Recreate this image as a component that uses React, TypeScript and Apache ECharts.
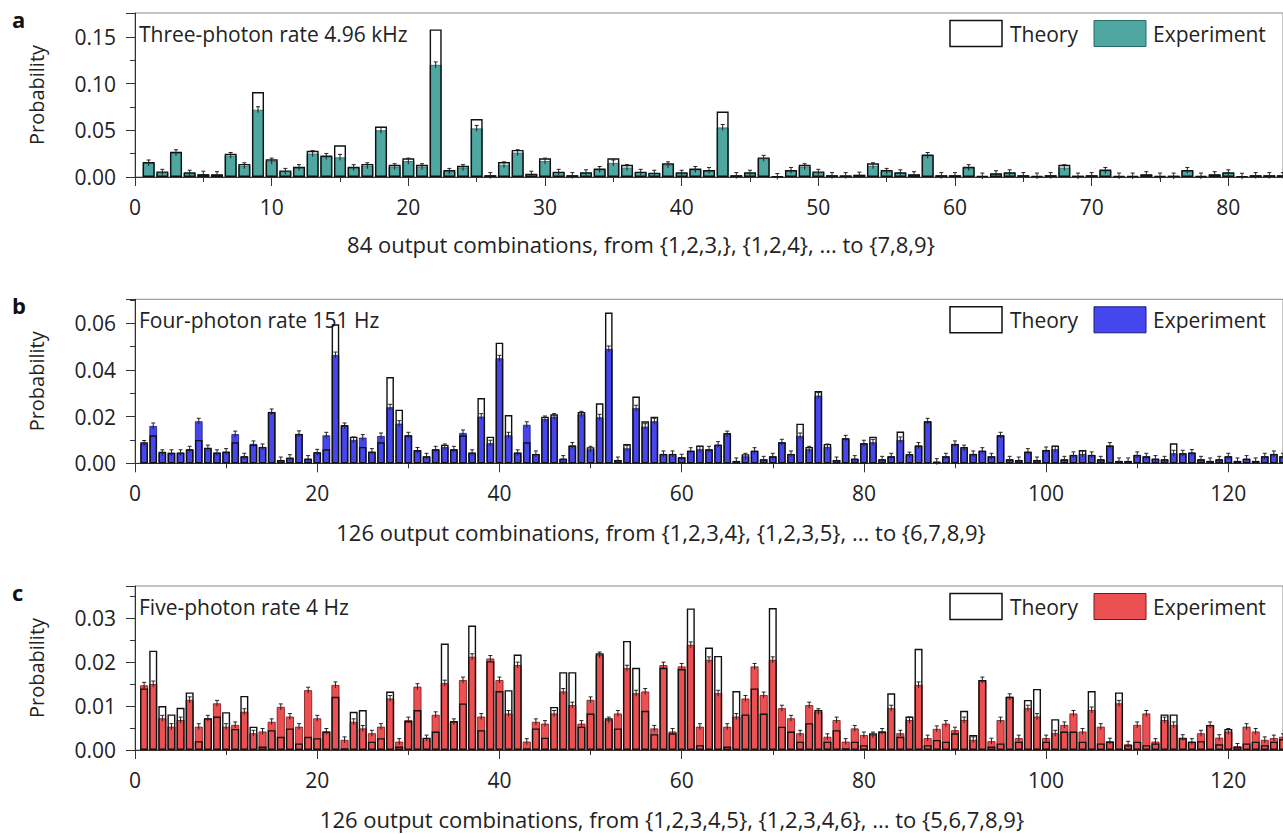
import React, { useEffect, useRef } from "react";
import * as echarts from "echarts";

// ---------- data ----------
const threeTheory = [
  0.016, 0.006, 0.027, 0.005, 0.003, 0.003, 0.025, 0.014, 0.091, 0.019,
  0.007, 0.011, 0.028, 0.023, 0.034, 0.011, 0.014, 0.054, 0.013, 0.02,
  0.013, 0.158, 0.0075, 0.012, 0.062, 0.002, 0.016, 0.029, 0.0036, 0.02,
  0.0057, 0.002, 0.005, 0.009, 0.02, 0.013, 0.0057, 0.0046, 0.0146, 0.005,
  0.009, 0.0075, 0.07, 0.002, 0.005, 0.021, 0.0005, 0.0075, 0.013, 0.006,
  0.002, 0.0018, 0.0025, 0.0146, 0.0075, 0.005, 0.003, 0.024, 0.002, 0.002,
  0.011, 0.001, 0.004, 0.005, 0.002, 0.001, 0.002, 0.013, 0.0015, 0.002,
  0.008, 0.001, 0.001, 0.003, 0.001, 0.0015, 0.0075, 0.001, 0.003, 0.005,
  0.0008, 0.002, 0.002, 0.002,
];
const threeExp = [
  0.015, 0.005, 0.026, 0.004, 0.003, 0.0025, 0.023, 0.012, 0.072, 0.017,
  0.006, 0.01, 0.025, 0.022, 0.021, 0.01, 0.012, 0.05, 0.011, 0.017,
  0.011, 0.12, 0.006, 0.01, 0.052, 0.0015, 0.013, 0.026, 0.003, 0.017,
  0.005, 0.0015, 0.0045, 0.008, 0.015, 0.01, 0.005, 0.004, 0.013, 0.004,
  0.008, 0.007, 0.053, 0.0015, 0.004, 0.02, 0.0005, 0.007, 0.011, 0.005,
  0.0015, 0.0015, 0.002, 0.012, 0.006, 0.0045, 0.0025, 0.023, 0.0015, 0.0015,
  0.01, 0.001, 0.0035, 0.0045, 0.0015, 0.001, 0.0015, 0.01, 0.001, 0.0015,
  0.007, 0.001, 0.001, 0.0025, 0.001, 0.001, 0.007, 0.001, 0.0025, 0.0045,
  0.0008, 0.0015, 0.0015, 0.0015,
];
const fourTheory = [
  0.009, 0.012, 0.005, 0.0045, 0.0046, 0.006, 0.01, 0.0067, 0.0046, 0.005,
  0.009, 0.003, 0.008, 0.007, 0.022, 0.0014, 0.0024, 0.0126, 0.002, 0.0047,
  0.006, 0.0596, 0.0164, 0.0114, 0.007, 0.005, 0.009, 0.037, 0.023, 0.012,
  0.0057, 0.003, 0.006, 0.008, 0.006, 0.012, 0.0046, 0.028, 0.0114, 0.0517,
  0.0207, 0.0046, 0.009, 0.004, 0.02, 0.021, 0.002, 0.0076, 0.022, 0.0069,
  0.0257, 0.0646, 0.0014, 0.0083, 0.0286, 0.018, 0.02, 0.004, 0.004, 0.0026,
  0.0054, 0.0076, 0.006, 0.008, 0.013, 0.001, 0.0039, 0.0054, 0.0017, 0.003,
  0.009, 0.004, 0.017, 0.007, 0.031, 0.0083, 0.0014, 0.0107, 0.002, 0.0086,
  0.0114, 0.0017, 0.003, 0.0136, 0.004, 0.0076, 0.018, 0.0007, 0.003, 0.0083,
  0.007, 0.004, 0.0054, 0.003, 0.012, 0.0017, 0.0014, 0.005, 0.0014, 0.0057,
  0.0076, 0.0017, 0.0036, 0.0057, 0.0036, 0.0017, 0.0076, 0.001, 0.001, 0.0036,
  0.003, 0.002, 0.0017, 0.0086, 0.0043, 0.0046, 0.0017, 0.001, 0.0017, 0.003,
  0.001, 0.002, 0.001, 0.003, 0.004, 0.003,
];
const fourExp = [
  0.0085, 0.016, 0.0045, 0.0045, 0.0045, 0.006, 0.018, 0.0065, 0.0045, 0.005,
  0.0125, 0.003, 0.0083, 0.007, 0.022, 0.0014, 0.0024, 0.0126, 0.002, 0.0047,
  0.012, 0.0464, 0.016, 0.01, 0.011, 0.005, 0.0117, 0.024, 0.017, 0.012,
  0.0055, 0.003, 0.006, 0.007, 0.006, 0.013, 0.0045, 0.02, 0.0086, 0.045,
  0.012, 0.0045, 0.0165, 0.004, 0.019, 0.02, 0.002, 0.0076, 0.021, 0.006,
  0.0197, 0.049, 0.0014, 0.0064, 0.0236, 0.0157, 0.018, 0.004, 0.004, 0.0026,
  0.0054, 0.006, 0.006, 0.008, 0.0125, 0.001, 0.003, 0.0054, 0.0017, 0.003,
  0.009, 0.004, 0.0117, 0.006, 0.029, 0.007, 0.0014, 0.0107, 0.002, 0.0086,
  0.009, 0.0017, 0.003, 0.01, 0.0035, 0.0076, 0.018, 0.0007, 0.003, 0.0083,
  0.0065, 0.004, 0.0054, 0.003, 0.012, 0.0017, 0.0014, 0.005, 0.0014, 0.0057,
  0.006, 0.0017, 0.0036, 0.004, 0.0036, 0.0017, 0.0076, 0.001, 0.001, 0.0036,
  0.003, 0.002, 0.0017, 0.0043, 0.0043, 0.0046, 0.0017, 0.001, 0.0017, 0.003,
  0.001, 0.002, 0.001, 0.003, 0.004, 0.003,
];
const fiveTheory = [
  0.014, 0.0226, 0.01, 0.0081, 0.0096, 0.0131, 0.002, 0.0072, 0.0076, 0.0086,
  0.0048, 0.0123, 0.0053, 0.0008, 0.0045, 0.003, 0.0049, 0.0015, 0.003, 0.0027,
  0.0042, 0.0121, 0.0004, 0.0087, 0.0091, 0.0019, 0.0027, 0.0133, 0.0008, 0.0066,
  0.0091, 0.0028, 0.0042, 0.0242, 0.0066, 0.0106, 0.0283, 0.0045, 0.0202, 0.0134,
  0.0136, 0.0217, 0.0004, 0.0049, 0.0028, 0.0098, 0.0177, 0.0177, 0.0053, 0.0083,
  0.022, 0.0072, 0.0049, 0.0248, 0.0187, 0.0089, 0.0036, 0.0187, 0.0038, 0.0184,
  0.0322, 0.0011, 0.0233, 0.0214, 0.0008, 0.0134, 0.0081, 0.014, 0.0083, 0.0323,
  0.0053, 0.0042, 0.0019, 0.0061, 0.0091, 0.0019, 0.0045, 0.0004, 0.0019, 0.0011,
  0.0038, 0.0042, 0.0129, 0.003, 0.0076, 0.023, 0.0011, 0.0023, 0.0019, 0.0038,
  0.0089, 0.0034, 0.0159, 0.0008, 0.0015, 0.0121, 0.0019, 0.0114, 0.0139, 0.0019,
  0.007, 0.0042, 0.0042, 0.0019, 0.0134, 0.0015, 0.0019, 0.0131, 0.0011, 0.0019,
  0.0011, 0.0015, 0.0081, 0.0081, 0.0027, 0.0019, 0.002, 0.0057, 0.0013, 0.0048,
  0.0008, 0.0015, 0.0019, 0.0011, 0.0019, 0.0025,
];
const fiveExp = [
  0.0147, 0.015, 0.0072, 0.0053, 0.0068, 0.0114, 0.0053, 0.0072, 0.0106, 0.0053,
  0.0057, 0.0087, 0.0038, 0.0042, 0.0064, 0.0098, 0.0076, 0.0053, 0.0136, 0.0072,
  0.0042, 0.0148, 0.0023, 0.0064, 0.0049, 0.0038, 0.0053, 0.0117, 0.0019, 0.0068,
  0.0144, 0.0027, 0.008, 0.0152, 0.0064, 0.0159, 0.0212, 0.0076, 0.0208, 0.0159,
  0.0083, 0.0193, 0.0019, 0.0064, 0.006, 0.0083, 0.0133, 0.0102, 0.006, 0.0114,
  0.0216, 0.0068, 0.0083, 0.0186, 0.0129, 0.0133, 0.0049, 0.0193, 0.0042, 0.019,
  0.0239, 0.0053, 0.0205, 0.0129, 0.0053, 0.0076, 0.0117, 0.019, 0.0125, 0.0205,
  0.0095, 0.0072, 0.0038, 0.0102, 0.0087, 0.003, 0.0068, 0.0019, 0.0049, 0.0034,
  0.0034, 0.0042, 0.0095, 0.0038, 0.0068, 0.0148, 0.0027, 0.0048, 0.006, 0.0045,
  0.0068, 0.0023, 0.0159, 0.002, 0.0068, 0.0121, 0.0027, 0.0095, 0.0076, 0.0027,
  0.0038, 0.0057, 0.0083, 0.0042, 0.0091, 0.0053, 0.002, 0.0106, 0.0013, 0.0057,
  0.0083, 0.0019, 0.0068, 0.0057, 0.0028, 0.0019, 0.0038, 0.0057, 0.0028, 0.0042,
  0.0008, 0.0053, 0.0042, 0.0023, 0.0027, 0.003,
];

const panelLetters = ["a", "b", "c"];
const rateTitles = [
  "Three-photon rate 4.96 kHz",
  "Four-photon rate 151 Hz",
  "Five-photon rate 4 Hz",
];
const axisTitles = [
  "84 output combinations, from {1,2,3,}, {1,2,4}, ... to {7,8,9}",
  "126 output combinations, from {1,2,3,4}, {1,2,3,5}, ... to {6,7,8,9}",
  "126 output combinations, from {1,2,3,4,5}, {1,2,3,4,6}, ... to {5,6,7,8,9}",
];
const legendNames = ["Theory", "Experiment"];
const yAxisName = "Probability";

// ---------- layout / style ----------
const FONT = "Open Sans";
const panels = [
  { top: 13, yMax: 0.1756, yInt: 0.05, xMax: 84, xInt: 10, barW: 12, fill: "#4fa7a1", edge: "#2a6b66", theory: threeTheory, exp: threeExp, titleX: 641, titleY: 244 },
  { top: 299.3, yMax: 0.0703, yInt: 0.02, xMax: 126, xInt: 20, barW: 7.6, fill: "#4646ee", edge: "#1c1c78", theory: fourTheory, exp: fourExp, titleX: 661, titleY: 532 },
  { top: 586, yMax: 0.0373, yInt: 0.01, xMax: 126, xInt: 20, barW: 8, fill: "#ec5052", edge: "#7a1414", theory: fiveTheory, exp: fiveExp, titleX: 672, titleY: 819 },
];
const PH = 164;

export default function App() {
  const ref = useRef<HTMLDivElement>(null);
  useEffect(() => {
    const chart = echarts.init(ref.current!, null, { renderer: "svg" });
    const grid: any[] = [];
    const xAxis: any[] = [];
    const yAxis: any[] = [];
    const series: any[] = [];
    const graphic: any[] = [];

    panels.forEach((p, i) => {
      grid.push({
        left: 135,
        right: -7,
        top: p.top,
        height: PH,
        show: true,
        borderColor: "#8a8a8a",
        borderWidth: 1,
        backgroundColor: "transparent",
      });
      xAxis.push({
        type: "value",
        gridIndex: i,
        min: 0,
        max: p.xMax,
        interval: p.xInt,
        axisLine: { lineStyle: { color: "#333", width: 1 } },
        axisTick: { length: 9, lineStyle: { color: "#333" } },
        minorTick: { show: true, splitNumber: 2, length: 5, lineStyle: { color: "#333" } },
        splitLine: { show: false },
        axisLabel: { fontSize: 21, color: "#222", fontFamily: FONT, margin: 19, showMaxLabel: false },
      });
      yAxis.push({
        type: "value",
        gridIndex: i,
        min: 0,
        max: p.yMax,
        interval: p.yInt,
        name: yAxisName,
        nameLocation: "middle",
        nameGap: 89,
        nameTextStyle: { fontSize: 20, color: "#222", fontFamily: FONT },
        axisLine: { show: true, lineStyle: { color: "#333", width: 1 } },
        axisTick: { show: true, length: 9, lineStyle: { color: "#333" } },
        minorTick: { show: true, splitNumber: 2, length: 5, lineStyle: { color: "#333" } },
        splitLine: { show: false },
        axisLabel: {
          fontSize: 21,
          color: "#222",
          fontFamily: FONT,
          margin: 19,
          showMaxLabel: false,
          formatter: (v: number) => v.toFixed(2),
        },
      });
      series.push({
        type: "bar",
        name: legendNames[1],
        xAxisIndex: i,
        yAxisIndex: i,
        barWidth: p.barW,
        barGap: "-100%",
        z: 2,
        itemStyle: { color: p.fill, borderColor: p.edge, borderWidth: 0.8 },
        data: p.exp.map((v, k) => [k + 1, v]),
      });
      series.push({
        type: "bar",
        name: legendNames[0],
        xAxisIndex: i,
        yAxisIndex: i,
        barWidth: p.barW,
        barGap: "-100%",
        z: 3,
        itemStyle: { color: "rgba(255,255,255,0)", borderColor: "#111", borderWidth: 1.4 },
        data: p.theory.map((v, k) => [k + 1, v]),
      });
      series.push({
        type: "custom",
        xAxisIndex: i,
        yAxisIndex: i,
        z: 4,
        renderItem: (params: any, api: any) => {
          const pt = api.coord([api.value(0), api.value(1)]);
          return {
            type: "group",
            children: [
              { type: "line", shape: { x1: pt[0], y1: pt[1] - 3, x2: pt[0], y2: pt[1] + 3 }, style: { stroke: "#222", lineWidth: 1 } },
              { type: "line", shape: { x1: pt[0] - 2, y1: pt[1] - 3, x2: pt[0] + 2, y2: pt[1] - 3 }, style: { stroke: "#222", lineWidth: 1 } },
            ],
          };
        },
        data: p.exp.map((v, k) => [k + 1, v]),
      });

      const ly = p.top + 7.5; // legend box top
      graphic.push(
        { type: "text", x: 12, y: p.top + 6, style: { text: panelLetters[i], fontSize: 22, fontWeight: "bold", fill: "#111", fontFamily: FONT, textVerticalAlign: "middle" } },
        { type: "text", x: 139, y: p.top + 21, style: { text: rateTitles[i], fontSize: 21, fill: "#222", fontFamily: FONT, textVerticalAlign: "middle" } },
        { type: "rect", shape: { x: 950, y: ly, width: 52, height: 26 }, style: { fill: "#fff", stroke: "#111", lineWidth: 1.5 } },
        { type: "text", x: 1010, y: ly + 13, style: { text: legendNames[0], fontSize: 21, fill: "#222", fontFamily: FONT, textVerticalAlign: "middle" } },
        { type: "rect", shape: { x: 1094, y: ly, width: 52, height: 26 }, style: { fill: p.fill, stroke: p.edge, lineWidth: 1 } },
        { type: "text", x: 1153, y: ly + 13, style: { text: legendNames[1], fontSize: 21, fill: "#222", fontFamily: FONT, textVerticalAlign: "middle" } },
        { type: "text", x: p.titleX, y: p.titleY, style: { text: axisTitles[i], fontSize: 22, fill: "#222", fontFamily: FONT, textAlign: "center", textVerticalAlign: "middle" } }
      );
    });

    chart.setOption({
      animation: false,
      backgroundColor: "#fff",
      textStyle: { fontFamily: FONT },
      grid,
      xAxis,
      yAxis,
      series,
      graphic,
    });
    return () => chart.dispose();
  }, []);
  return (
    <div
      ref={ref}
      style={{ position: "fixed", left: 0, top: 0, width: 1283, height: 834, background: "#fff" }}
    />
  );
}
